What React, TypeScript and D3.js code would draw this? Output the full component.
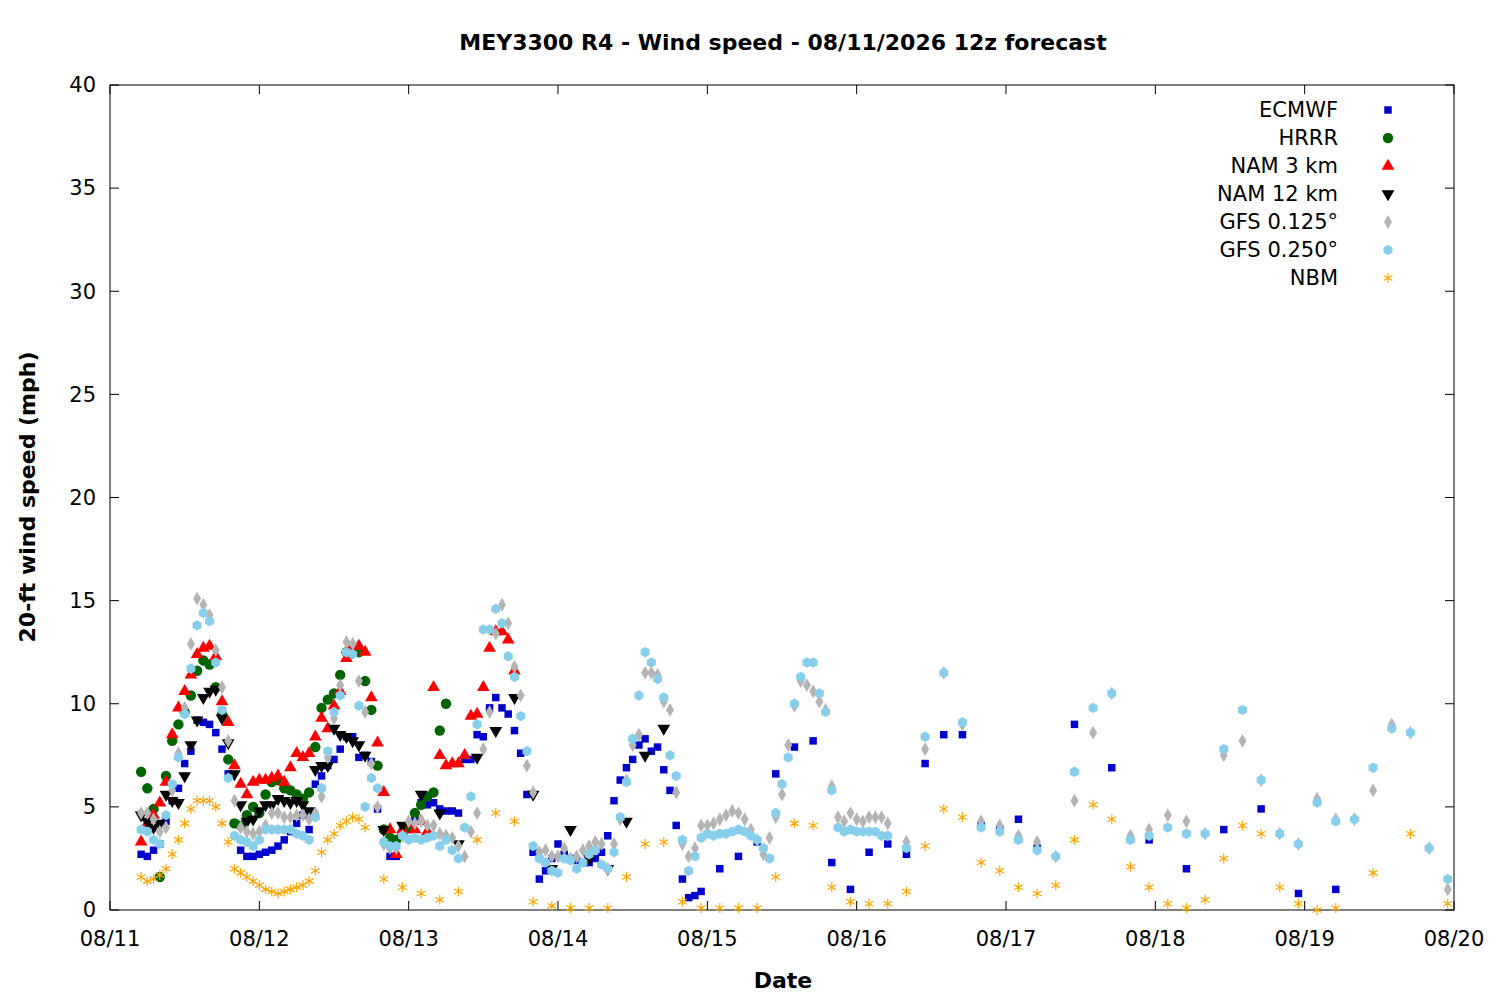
import React, { useEffect, useRef } from 'react';
import * as d3 from 'd3';

// hours since 08/11 00 for each run segment; values in mph
const dayLabels = ['08/11', '08/12', '08/13', '08/14', '08/15', '08/16', '08/17', '08/18', '08/19', '08/20'];
const yTicks = [0, 5, 10, 15, 20, 25, 30, 35, 40];

const ecmwfHourly = [2.7, 2.6, 2.9, 3.2, 4.3, 5.3, 5.9, 7.1, 7.7, 9.2, 9.1, 9.0, 8.6, 7.8, 6.6, 4.2, 2.9, 2.6, 2.6, 2.7, 2.8, 2.9, 3.1, 3.4, 3.8, 4.2, 4.6, 3.9, 6.1, 6.5, 7.0, 7.3, 7.8, 8.4, 8.4, 7.4, 7.5, 7.2, 4.9, 3.9, 2.6, 2.6, 3.6, 3.9, 4.4, 5.2, 5.1, 5.2, 4.9, 4.8, 4.8, 4.7, 7.3, 7.3, 8.5, 8.4, 9.8, 10.3, 9.8, 9.5, 8.7, 7.6, 5.6, 2.8, 1.5, 1.9, 2.5, 3.2, 2.7, 2.5, 2.4, 2.3, 2.3, 2.5, 2.8, 3.6, 5.3, 6.3, 6.9, 7.3, 8.0, 8.3, 7.7, 7.9, 6.8, 5.8, 4.1, 1.5, 0.6, 0.7, 0.9];
const ecmwf3h = [2.0, 2.6, 3.3, 6.6, 7.9, 8.2, 2.3, 1.0, 2.8, 3.2, 2.7, 7.1, 8.5, 8.5, 4.1, 3.9, 4.4, 3.0];
const ecmwf6h = [9.0, 6.9, 3.4, 2.0, 3.9, 4.9, 0.8, 1.0];

const hrrrHourly = [6.7, 5.9, 4.9, 1.6, 6.5, 8.2, 9.0, 9.6, 10.4, 11.6, 12.1, 11.9, 10.8, 9.5, 7.3, 4.2, 4.1, 4.6, 5.0, 4.7, 5.6, 6.2, 6.3, 5.9, 5.8, 5.6, 5.4, 5.7, 7.9, 9.8, 10.2, 10.5, 11.4, 12.5, 12.6, 12.5, 11.1, 9.7, 7.0, 3.9, 3.5, 3.4, 3.7, 4.0, 4.7, 5.1, 5.5, 5.7, 8.7, 10.0];

const nam3Hourly = [3.3, 4.2, 4.6, 5.2, 6.2, 8.5, 9.8, 10.6, 11.4, 12.4, 12.7, 12.8, 12.3, 10.1, 9.1, 7.0, 6.1, 5.6, 6.2, 6.3, 6.3, 6.4, 6.5, 6.2, 6.9, 7.6, 7.4, 7.6, 8.4, 9.3, 8.8, 9.9, 10.6, 12.2, 12.8, 12.8, 12.5, 10.3, 8.1, 5.7, 3.9, 2.7, 3.9, 4.2, 3.9, 4.3, 3.8, 10.8, 7.5, 7.0, 7.1, 7.1, 7.5, 9.4, 9.5, 10.8, 12.7, 13.5, 13.5, 13.1, 11.6];

const nam12Hourly = [4.6, 4.3, 4.0, 4.2, 5.6, 5.3, 5.2, 6.5, 8.0, 9.2, 10.3, 10.6, 10.7, 9.3, 8.1, 6.6, 5.1, 4.3, 4.4, 4.8, 5.1, 5.1, 5.4, 5.3, 5.2, 5.3, 5.1, 4.8, 6.8, 7.0, 7.0, 8.8, 8.5, 8.4, 8.2, 8.0, 7.5];
const nam123h = [3.9, 4.1, 5.6, 4.7, 3.2, 7.4, 8.7, 10.3, 5.6, 2.0, 3.9, 2.5, 2.0, 4.3, 7.5, 8.8];

const gfs125Hourly = [4.7, 4.7, 4.4, 3.8, 4.0, 5.8, 7.6, 9.8, 12.9, 15.1, 14.8, 14.3, 12.6, 10.8, 8.2, 5.3, 4.0, 3.8, 3.7, 3.8, 4.1, 4.7, 4.7, 4.5, 4.5, 4.6, 4.6, 4.4, 4.7, 5.5, 7.4, 9.3, 10.9, 13.0, 12.9, 11.1, 9.6, 7.1, 5.0, 3.2, 3.0, 3.0, 3.6, 4.3, 4.2, 4.3, 4.1, 4.1, 3.7, 3.6, 3.5, 3.1, 2.6, 3.8, 4.7, 7.8, 9.6, 13.4, 14.8, 13.9, 11.8, 10.4, 7.0, 5.7, 2.8, 2.9, 2.6, 2.6, 3.0, 2.5, 2.6, 2.9, 3.1, 3.3, 3.2, 2.0, 3.2, 4.4, 6.3, 8.0, 8.5, 11.5, 11.5, 11.4, 10.1, 9.7, 5.7, 3.2, 2.6, 3.0, 4.1, 4.1, 4.2, 4.4, 4.6, 4.8, 4.7, 4.4, 3.9, 3.4, 2.7, 3.5, 4.5, 5.6, 8.0, 9.9, 11.1, 10.9, 10.6, 10.1, 9.7, 6.0, 4.5, 4.3, 4.7, 4.4, 4.3, 4.5, 4.5, 4.5, 4.2];
const gfs1253h = [3.3, 7.8, 11.5, 9.0, 4.3, 4.1, 3.6, 3.3, 2.6, 5.3, 8.6, 10.5, 3.6, 3.9, 4.6, 4.3, 3.7, 7.5, 8.2, 6.3, 3.7, 3.2, 5.4, 4.4, 4.4, 5.8, 9.0, 8.6, 3.0, 1.0];

const gfs250Hourly = [3.9, 3.8, 3.4, 3.2, 4.6, 6.1, 7.4, 9.5, 11.7, 13.8, 14.4, 14.0, 12.0, 9.7, 6.4, 3.6, 3.4, 3.3, 3.1, 3.4, 3.9, 3.9, 3.9, 3.9, 3.9, 3.7, 3.6, 3.4, 4.5, 5.9, 7.7, 9.6, 10.4, 12.5, 12.4, 9.9, 5.0, 6.4, 5.9, 3.3, 3.1, 3.1, 3.6, 3.4, 3.5, 3.4, 3.5, 3.6, 3.1, 3.4, 2.9, 2.5, 4.0, 5.5, 9.0, 13.6, 13.6, 14.6, 13.9, 12.3, 11.3, 9.4, 7.7, 3.1, 2.5, 2.3, 1.9, 1.8, 2.5, 2.4, 2.0, 2.3, 2.7, 2.9, 2.2, 2.0, 2.8, 4.5, 6.2, 8.3, 10.4, 12.5, 12.0, 11.2, 10.3, 7.5, 6.5, 3.4, 1.9, 2.6, 3.5, 3.7, 3.6, 3.7, 3.7, 3.8, 3.9, 3.8, 3.6, 3.4, 3.0, 2.5, 4.7, 6.1, 7.4, 10.0, 11.3, 12.0, 12.0, 10.5, 9.6, 5.8, 4.0, 3.8, 3.9, 3.8, 3.8, 3.8, 3.8, 3.6, 3.6];
const gfs2503h = [3.0, 8.4, 11.5, 9.1, 4.0, 3.8, 3.4, 2.9, 2.6, 6.7, 9.8, 10.5, 3.4, 3.6, 4.0, 3.7, 3.7, 7.8, 9.7, 6.3, 3.7, 3.2, 5.2, 4.3, 4.4, 6.9, 8.8, 8.6, 3.0, 1.5];

const nbmHourly = [1.6, 1.4, 1.5, 1.7, 2.0, 2.7, 3.4, 4.2, 4.9, 5.3, 5.3, 5.3, 5.0, 4.2, 3.3, 2.0, 1.8, 1.6, 1.4, 1.2, 1.0, 0.9, 0.8, 0.9, 1.0, 1.1, 1.2, 1.4, 1.9, 2.8, 3.4, 3.7, 4.1, 4.3, 4.5, 4.4, 4.0];
const nbm3h = [1.5, 1.1, 0.8, 0.5, 0.9, 3.4, 4.7, 4.3, 0.4, 0.2, 0.1, 0.1, 0.1, 1.6, 3.2, 3.3, 0.4, 0.1, 0.1, 0.1, 0.1, 1.6, 4.2, 4.1, 1.1, 0.4, 0.3, 0.3, 0.9, 3.1, 4.9, 4.5, 2.3, 1.9, 1.1, 0.8, 1.2, 3.4, 5.1, 4.4, 2.1, 1.1, 0.3, 0.1, 0.5, 2.5, 4.1, 3.7, 1.1, 0.3, 0.0, 0.1, null, 1.8, null, 3.7, null, 0.3];

type Pt = { h: number; v: number };
const seg = (start: number, step: number, vals: (number | null)[]): Pt[] =>
  vals.map((v, i) => ({ h: start + i * step, v: v as number })).filter(p => p.v != null);

const hexPath = (r: number) =>
  d3.range(6).map(i => {
    const a = Math.PI / 6 + (i * Math.PI) / 3;
    return `${i ? 'L' : 'M'}${(r * Math.cos(a)).toFixed(2)},${(r * Math.sin(a)).toFixed(2)}`;
  }).join('') + 'Z';

const series = [
  { name: 'ECMWF', color: '#0000cc', shape: 'square', pts: [...seg(5, 1, ecmwfHourly), ...seg(98, 3, ecmwf3h), ...seg(155, 6, ecmwf6h)] },
  { name: 'HRRR', color: '#006400', shape: 'circle', pts: seg(5, 1, hrrrHourly) },
  { name: 'NAM 3 km', color: '#ff0000', shape: 'tri', pts: seg(5, 1, nam3Hourly) },
  { name: 'NAM 12 km', color: '#000000', shape: 'triDown', pts: [...seg(5, 1, nam12Hourly), ...seg(44, 3, nam123h)] },
  { name: 'GFS 0.125°', color: '#b4b4b4', shape: 'diamond', pts: [...seg(5, 1, gfs125Hourly), ...seg(128, 3, gfs1253h)] },
  { name: 'GFS 0.250°', color: '#87ceeb', shape: 'hex', pts: [...seg(5, 1, gfs250Hourly), ...seg(128, 3, gfs2503h)] },
  { name: 'NBM', color: '#ffa500', shape: 'star', pts: [...seg(5, 1, nbmHourly), ...seg(44, 3, nbm3h)] },
];

const App: React.FC = () => {
  const svgRef = useRef<SVGSVGElement | null>(null);

  useEffect(() => {
    if (!svgRef.current) return;
    const svg = d3.select(svgRef.current);
    svg.selectAll('*').remove();
    const font = 'DejaVu Sans, sans-serif';
    const left = 110, right = 1454, top = 85, bottom = 910;

    const x = d3.scaleLinear().domain([0, 216]).range([left, right]);
    const y = d3.scaleLinear().domain([0, 40]).range([bottom, top]);

    const shapePath = (shape: string) => {
      switch (shape) {
        case 'square': return d3.symbol(d3.symbolSquare, 56)()!;
        case 'circle': return d3.symbol(d3.symbolCircle, 85)()!;
        case 'tri': case 'triDown': return d3.symbol(d3.symbolTriangle, 70)()!;
        case 'diamond': return d3.symbol(d3.symbolDiamond, 55)()!;
        case 'hex': return hexPath(5.2);
        default: return d3.symbol(d3.symbolAsterisk, 70)()!;
      }
    };
    const draw = (g: d3.Selection<SVGGElement, unknown, null, undefined>, s: typeof series[0], pts: Pt[], px?: (p: Pt) => [number, number]) => {
      const path = shapePath(s.shape);
      const stroke = s.shape === 'star';
      g.selectAll(null).data(pts).enter().append('path')
        .attr('d', path)
        .attr('transform', p => {
          const [cx, cy] = px ? px(p) : [x(p.h), y(p.v)];
          return `translate(${cx},${cy})${s.shape === 'triDown' ? ' rotate(180)' : ''}`;
        })
        .attr('fill', stroke ? 'none' : s.color)
        .attr('stroke', stroke ? s.color : 'none')
        .attr('stroke-width', 1.2);
    };

    // frame
    svg.append('rect').attr('x', left).attr('y', top).attr('width', right - left).attr('height', bottom - top)
      .attr('fill', 'none').attr('stroke', '#000').attr('stroke-width', 1);

    const axes = svg.append('g').attr('stroke', '#000').attr('stroke-width', 1);
    yTicks.forEach(t => {
      axes.append('line').attr('x1', left).attr('x2', left + 9).attr('y1', y(t)).attr('y2', y(t));
      axes.append('line').attr('x1', right).attr('x2', right - 9).attr('y1', y(t)).attr('y2', y(t));
      svg.append('text').attr('x', left - 14).attr('y', y(t)).attr('dy', '0.35em').attr('text-anchor', 'end')
        .attr('font-family', font).attr('font-size', 21).text(t);
    });
    dayLabels.forEach((lab, i) => {
      const xx = x(i * 24);
      axes.append('line').attr('x1', xx).attr('x2', xx).attr('y1', bottom).attr('y2', bottom - 9);
      axes.append('line').attr('x1', xx).attr('x2', xx).attr('y1', top).attr('y2', top + 9);
      svg.append('text').attr('x', xx).attr('y', 946).attr('text-anchor', 'middle')
        .attr('font-family', font).attr('font-size', 21).text(lab);
    });

    svg.append('text').attr('x', 783).attr('y', 50).attr('text-anchor', 'middle').attr('font-family', font)
      .attr('font-size', 22).attr('font-weight', 'bold').text('MEY3300 R4 - Wind speed - 08/11/2026 12z forecast');
    svg.append('text').attr('x', 783).attr('y', 988).attr('text-anchor', 'middle').attr('font-family', font)
      .attr('font-size', 22).attr('font-weight', 'bold').text('Date');
    svg.append('text').attr('transform', 'translate(35,497) rotate(-90)').attr('text-anchor', 'middle').attr('font-family', font)
      .attr('font-size', 22).attr('font-weight', 'bold').text('20-ft wind speed (mph)');

    const plot = svg.append('g');
    series.forEach(s => draw(plot, s, s.pts));

    const legend = svg.append('g');
    series.forEach((s, i) => {
      const ly = 110 + i * 28;
      legend.append('text').attr('x', 1338).attr('y', ly).attr('dy', '0.35em').attr('text-anchor', 'end')
        .attr('font-family', font).attr('font-size', 21).text(s.name);
      draw(legend, s, [{ h: 0, v: 0 }], () => [1388, ly]);
    });
  }, []);

  return (
    <svg ref={svgRef} width={1500} height={1000}
      style={{ position: 'absolute', left: 0, top: 0, background: '#fff' }} />
  );
};

export default App;
